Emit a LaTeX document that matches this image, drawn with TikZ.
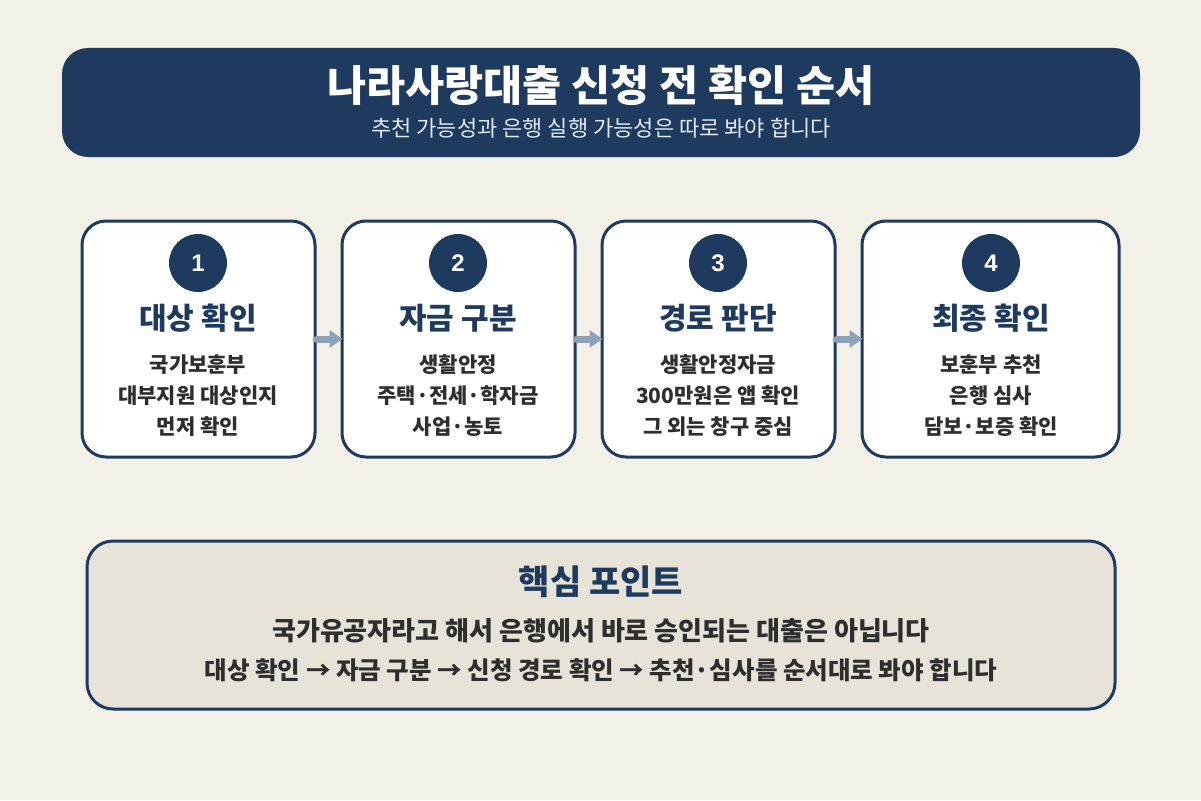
\documentclass[tikz,border=0pt]{standalone}
\usepackage{fontspec}
\setmainfont{Noto Sans CJK KR}
\newfontfamily\numfont{Liberation Sans}
\usetikzlibrary{arrows.meta}

\definecolor{sfondo}{HTML}{F3F0E8}
\definecolor{blu}{HTML}{1E3A5F}
\definecolor{grigioblu}{HTML}{8DA1B9}
\definecolor{testo}{HTML}{2E2E2E}
\definecolor{crema}{HTML}{E8E3D8}
\definecolor{chiaro}{HTML}{E2E8F0}

\begin{document}
\begin{tikzpicture}[x=1pt,y=-1pt]
	\tikzset{
		passo/.style={draw=blu, line width=3pt, fill=white, rounded corners=24pt, minimum height=236pt, inner sep=0pt},
		numero/.style={circle, fill=blu, minimum size=58pt, inner sep=0pt, text=white, font=\numfont\bfseries\fontsize{24}{24}\selectfont},
		titolo/.style={text=blu, font=\bfseries\fontsize{30}{30}\selectfont},
		corpo/.style={text=testo, font=\bfseries\fontsize{21}{21}\selectfont},
		freccia/.style={draw=grigioblu, line width=7pt, line cap=round, -{Triangle[length=13pt,width=17pt]}}
	}
	
	% Sfondo
	\fill[sfondo] (0,0) rectangle (1201,800);
	\useasboundingbox (0,0) rectangle (1201,800);
	
	% Intestazione
	\node[fill=blu, rounded corners=26pt, minimum width=1078pt, minimum height=109pt, inner sep=0pt] (H) at (601,102.5) {};
	\node[text=white, font=\bfseries\fontsize{42.5}{42.5}\selectfont] (HT) at (601,85) {나라사랑대출 신청 전 확인 순서};
	\node[text=chiaro, font=\fontsize{22}{22}\selectfont] (HS) at (601,128) {추천 가능성과 은행 실행 가능성은 따로 봐야 합니다};
	
	% Passi
	\node[passo, minimum width=233pt] (P1) at (198.5,339) {};
	\node[passo, minimum width=233pt] (P2) at (458.5,339) {};
	\node[passo, minimum width=233pt] (P3) at (718.5,339) {};
	\node[passo, minimum width=257pt] (P4) at (990.5,339) {};
	
	\node[numero] (N1) at (198,263) {1};
	\node[numero] (N2) at (458,263) {2};
	\node[numero] (N3) at (718,263) {3};
	\node[numero] (N4) at (991,263) {4};
	
	\node[titolo] (T1) at (198,318) {대상 확인};
	\node[titolo] (T2) at (458,318) {자금 구분};
	\node[titolo] (T3) at (718,318) {경로 판단};
	\node[titolo] (T4) at (991,318) {최종 확인};
	
	\node[corpo, align=center] (C1) at (198,396) {국가보훈부\\[10pt]대부지원 대상인지\\[10pt]먼저 확인};
	\node[corpo, align=center] (C2) at (458,396) {생활안정\\[10pt]주택·전세·학자금\\[10pt]사업·농토};
	\node[corpo, align=center] (C3) at (718,396) {생활안정자금\\[10pt]300만원은 앱 확인\\[10pt]그 외는 창구 중심};
	\node[corpo, align=center] (C4) at (991,396) {보훈부 추천\\[10pt]은행 심사\\[10pt]담보·보증 확인};
	
	% Frecce tra i passi
	\draw[freccia, shorten >=-2pt] (P1.east) -- (P2.west);
	\draw[freccia, shorten >=-2pt] (P2.east) -- (P3.west);
	\draw[freccia, shorten >=-2pt] (P3.east) -- (P4.west);
	
	% Punto chiave
	\node[draw=blu, line width=3pt, fill=crema, rounded corners=26pt, minimum width=1028pt, minimum height=168pt, inner sep=0pt] (K) at (601,625) {};
	\node[text=blu, font=\bfseries\fontsize{34}{34}\selectfont] (KT) at (601,582) {핵심 포인트};
	\node[text=testo, font=\bfseries\fontsize{26}{26}\selectfont] (K1) at (601,631) {국가유공자라고 해서 은행에서 바로 승인되는 대출은 아닙니다};
	\node[text=testo, font=\bfseries\fontsize{24.5}{24.5}\selectfont] (K2) at (601,670) {대상 확인 → 자금 구분 → 신청 경로 확인 → 추천·심사를 순서대로 봐야 합니다};
\end{tikzpicture}
\end{document}
